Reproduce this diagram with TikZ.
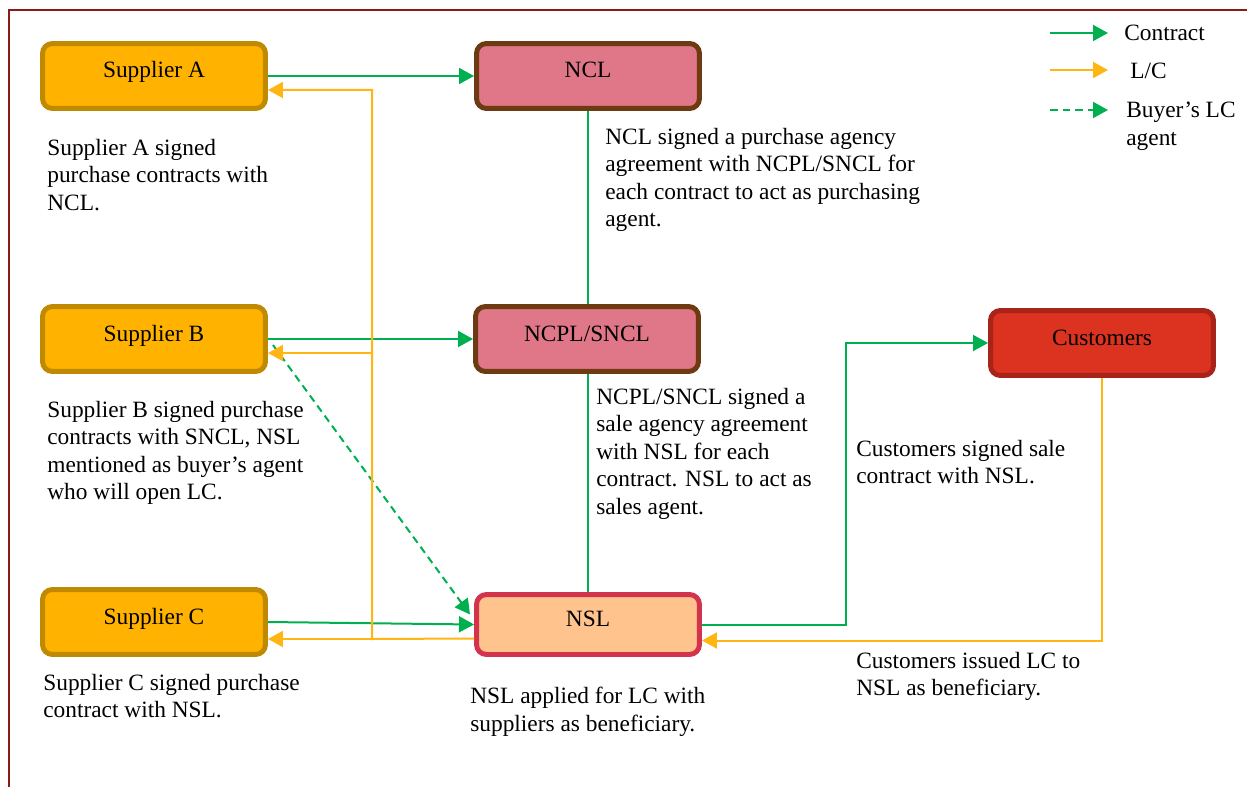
\documentclass[tikz,border=0pt]{standalone}
\usepackage{fontspec}
\setmainfont{Liberation Serif}
\usepackage{tikz}
\usetikzlibrary{calc,positioning,arrows.meta}
\definecolor{supfill}{HTML}{FFB300}
\definecolor{supdraw}{HTML}{BF8A00}
\definecolor{nclfill}{HTML}{E07788}
\definecolor{ncldraw}{HTML}{6E3A12}
\definecolor{custfill}{HTML}{DC3220}
\definecolor{custdraw}{HTML}{A8241A}
\definecolor{nslfill}{HTML}{FFC48E}
\definecolor{nsldraw}{HTML}{D2344E}
\definecolor{ctgreen}{HTML}{00B050}
\definecolor{lcorange}{HTML}{FFB612}
\definecolor{framered}{HTML}{8B1A1A}
\tikzset{
    font={\fontsize{13.3pt}{15.6pt}\selectfont},
    box/.style={
        rectangle,
        rounded corners=0.2cm,
        line width=0.1cm,
        minimum width=4.46cm,
        minimum height=1.3cm,
        text height=0.3cm,
        text depth=0.22cm,
        inner sep=0pt
    },
    supplier/.style={box, fill=supfill, draw=supdraw},
    agentbox/.style={box, fill=nclfill, draw=ncldraw},
    note/.style={anchor=north west, align=left, inner sep=0pt},
    tip/.style={-{Triangle[length=0.3cm,width=0.32cm]}},
    contract/.style={draw=ctgreen, line width=0.04cm, tip},
    ctline/.style={draw=ctgreen, line width=0.04cm},
    lc/.style={draw=lcorange, line width=0.04cm, tip},
    lcline/.style={draw=lcorange, line width=0.04cm},
    agent/.style={draw=ctgreen, line width=0.04cm, dash pattern=on 0.15cm off 0.1cm, tip},
}

\begin{document}
\begin{tikzpicture}[x=0.02cm, y=-0.02cm]

\useasboundingbox (0,0) rectangle (1247,787);
\draw [framered, line width=0.04cm] (9,787) -- (9,10) -- (1247,10);

% parties
\foreach \n/\t/\y in {supA/Supplier A/76, supB/Supplier B/339, supC/Supplier C/622}
  \node [supplier] (\n) at (154,\y) {\t};

\node [agentbox] (ncl) at (588,76) {NCL};
\node [agentbox] (ncpl) at (587,339) {NCPL/SNCL};
\node [box, fill=custfill, draw=custdraw] (cust) at (1102,343) {Customers};
\node [box, fill=nslfill, draw=nsldraw, minimum height=1.2cm] (nsl) at (588,624.5) {NSL};

% notes
\node [note] (noteA) at (47,139) {Supplier A signed\\purchase contracts with\\NCL.};
\node [note] (noteB) at (47,401) {Supplier B signed purchase\\contracts with SNCL, NSL\\mentioned as buyer’s agent\\who will open LC.};
\node [note] (noteC) at (43,674) {Supplier C signed purchase\\contract with NSL.};
\node [note] (noteNCL) at (605,128) {NCL signed a purchase agency\\agreement with NCPL/SNCL for\\each contract to act as purchasing\\agent.};
\node [note] (noteNCPL) at (596,388) {NCPL/SNCL signed a\\sale agency agreement\\with NSL for each\\contract. NSL to act as\\sales agent.};
\node [note] (noteNSL) at (470,687) {NSL applied for LC with\\suppliers as beneficiary.};
\node [note] (noteCust) at (856,440) {Customers signed sale\\contract with NSL.};
\node [note] (noteLC) at (856,652) {Customers issued LC to\\NSL as beneficiary.};

% contracts
\draw [contract] (supA) -- (ncl);
\draw [contract] (supB) -- (ncpl);
\draw [contract] (supC.east) -- (nsl.west);
\draw [ctline] (ncl.south) -- (ncl.south |- ncpl.north);
\draw [ctline] (ncpl.south -| ncl.south) -- (nsl.north -| ncl.south);
\draw [contract] (nsl.east) -- ++(144,0) |- (cust.west);
\draw [agent] ($(supB.east)+(5,6)$) -- ($(nsl.west)+(-4,-10)$);

% letters of credit
\coordinate (busA) at (372,90);
\coordinate (busB) at (372,353);
\coordinate (busC) at (372,639);
\draw [lc] ($(nsl.west)+(0,14)$) -- (busC) -- (busA) -- (busA -| supA.east);
\draw [lc] (busB) -- (busB -| supB.east);
\draw [lc] (busC) -- (busC -| supC.east);
\draw [lc] (cust.south) |- ($(nsl.east)+(0,16)$);

% legend
\foreach \s/\y [count=\i] in {contract/33, lc/70, agent/110} {
  \coordinate (key\i) at (1050,\y);
  \coordinate (keyend\i) at (1108,\y);
  \draw [\s] (key\i) -- (keyend\i);
}
\node [anchor=west, inner sep=0pt] (legContract) at (1124,33) {Contract};
\node [anchor=west, inner sep=0pt] (legLC) at (1130,71) {L/C};
\node [note] (legAgent) at (1126,102) {Buyer’s LC\\agent};

\end{tikzpicture}
\end{document}
